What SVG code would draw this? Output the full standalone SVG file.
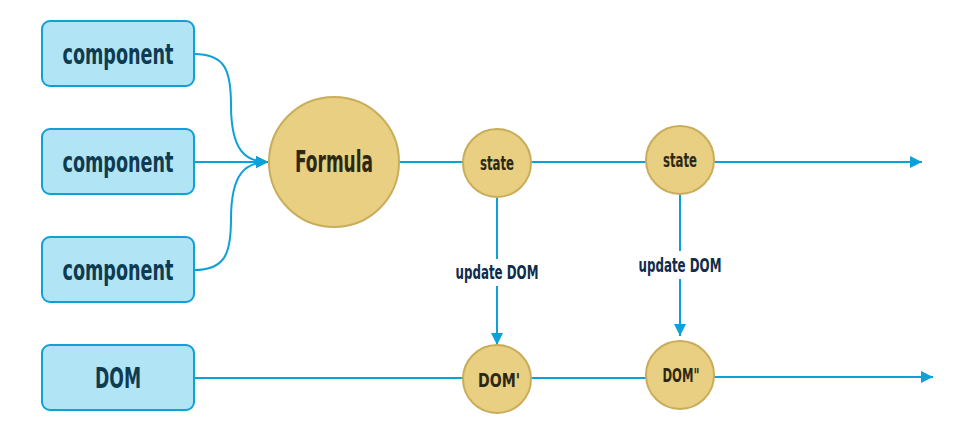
<svg xmlns="http://www.w3.org/2000/svg" width="960" height="436" viewBox="0 0 960 436">
<defs>
<style>
.box{fill:#b1e4f5;stroke:#11a0d6;stroke-width:2}
.circ{fill:#e8cf81;stroke:#c9ad5b;stroke-width:2}
.bt{font-family:"DejaVu Sans Condensed","DejaVu Sans",sans-serif;font-stretch:condensed;font-weight:bold;fill:#0e3b50;text-anchor:middle}
.ct{font-family:"DejaVu Sans Condensed","DejaVu Sans",sans-serif;font-stretch:condensed;font-weight:bold;fill:#2d2815;text-anchor:middle}
.lt{font-family:"DejaVu Sans Condensed","DejaVu Sans",sans-serif;font-stretch:condensed;font-weight:bold;fill:#0f2c4c;text-anchor:middle;font-size:19px}
.ln{fill:none;stroke:#0ea0d8;stroke-width:2}
</style>
<marker id="ah" viewBox="0 0 12 12" refX="12" refY="6" markerWidth="12" markerHeight="12" markerUnits="userSpaceOnUse" orient="auto">
<path d="M0,0 L12,6 L0,12 Z" fill="#0ea0d8"/>
</marker>
</defs>
<g id="connectors">
<path class="ln" d="M194,54 C225,54 231,70 231,105 C231,150 245,162 268,162" marker-end="url(#ah)"/>
<path class="ln" d="M194,162 L268,162" marker-end="url(#ah)"/>
<path class="ln" d="M194,270 C225,270 231,254 231,219 C231,174 245,162 268,162" marker-end="url(#ah)"/>
<path class="ln" d="M399,162 L463,162"/>
<path class="ln" d="M531,162 L646,162"/>
<path class="ln" d="M714,162 L922,162" marker-end="url(#ah)"/>
<path class="ln" d="M194,378 L463,378"/>
<path class="ln" d="M531,378 L646,378"/>
<path class="ln" d="M714,377 L933,377" marker-end="url(#ah)"/>
<path class="ln" d="M497,198 L497,259"/>
<path class="ln" d="M497,286 L497,345" marker-end="url(#ah)"/>
<path class="ln" d="M680,194 L680,251"/>
<path class="ln" d="M680,279 L680,336" marker-end="url(#ah)"/>
<text class="lt" x="497" y="279" textLength="83" lengthAdjust="spacingAndGlyphs">update DOM</text>
<text class="lt" x="680" y="272" textLength="83" lengthAdjust="spacingAndGlyphs">update DOM</text>
</g>
<g id="component1"><rect class="box" x="42" y="21" width="152" height="65" rx="8"/><text class="bt" x="118" y="64" font-size="29" textLength="111" lengthAdjust="spacingAndGlyphs">component</text></g>
<g id="component2"><rect class="box" x="42" y="129" width="152" height="65" rx="8"/><text class="bt" x="118" y="172" font-size="29" textLength="111" lengthAdjust="spacingAndGlyphs">component</text></g>
<g id="component3"><rect class="box" x="42" y="237" width="152" height="65" rx="8"/><text class="bt" x="118" y="280" font-size="29" textLength="111" lengthAdjust="spacingAndGlyphs">component</text></g>
<g id="dom"><rect class="box" x="42" y="345" width="152" height="65" rx="8"/><text class="bt" x="118" y="388" font-size="29" textLength="46" lengthAdjust="spacingAndGlyphs">DOM</text></g>
<g id="formula"><circle class="circ" cx="334" cy="162" r="65"/><text class="ct" x="334" y="172" font-size="30" textLength="78" lengthAdjust="spacingAndGlyphs">Formula</text></g>
<g id="state1"><circle class="circ" cx="497" cy="163" r="34"/><text class="ct" x="497" y="170" font-size="20" textLength="34" lengthAdjust="spacingAndGlyphs">state</text></g>
<g id="state2"><circle class="circ" cx="680" cy="160" r="34"/><text class="ct" x="680" y="167" font-size="20" textLength="34" lengthAdjust="spacingAndGlyphs">state</text></g>
<g id="dom1"><circle class="circ" cx="497" cy="379" r="34"/><text class="ct" x="499" y="387" font-size="20" textLength="42" lengthAdjust="spacingAndGlyphs">DOM'</text></g>
<g id="dom2"><circle class="circ" cx="680" cy="375" r="34"/><text class="ct" x="681" y="382" font-size="20" textLength="37" lengthAdjust="spacingAndGlyphs">DOM"</text></g>
</svg>
